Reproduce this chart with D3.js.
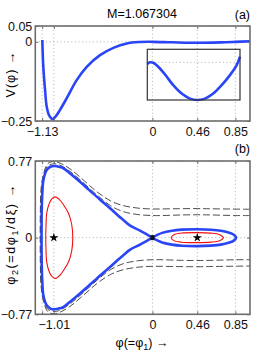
<!DOCTYPE html>
<html>
<head>
<meta charset="utf-8">
<script src="https://cdn.jsdelivr.net/npm/d3@7"></script>
<style>
  body { margin: 0; background: #fff; }
  svg { display: block; font-family: "Liberation Sans", Arial, sans-serif; }
</style>
</head>
<body>
<div id="chart"></div>
<script>
const title = 'M=1.067304'

const xTicks = [-1.13, -1.01, 0, 0.46, 0.85]
const xLabelsA = ['−1.13', '', '0', '0.46', '0.85']
const xLabelsB = ['', '−1.01', '0', '0.46', '0.85']
const yTicksA = [-0.25, 0, 0.05]
const yLabelsA = ['−0.25', '0', '0.05']
const yTicksB = [-0.77, 0, 0.77]
const yLabelsB = ['−0.77', '0', '0.77']

// Sagdeev potential, panel (a)
const potPhi = [-1.128, -1.118, -1.10, -1.083, -1.056, -1.026, -0.998, -0.947, -0.878, -0.776, -0.673, -0.537, -0.40, -0.263, -0.127, 0, 0.2, 0.46, 0.7, 0.85, 1.0]
const potV = [0.006, -0.079, -0.152, -0.205, -0.234, -0.244, -0.238, -0.215, -0.178, -0.121, -0.079, -0.042, -0.019, -0.005, -0.0005, 0, -0.0015, -0.003, -0.0017, 0, 0.002]

// inset, zoom on 0 < phi < 0.85
const insetPhi = [-0.052, -0.025, 0.009, 0.06, 0.129, 0.214, 0.3, 0.385, 0.46, 0.539, 0.624, 0.71, 0.795, 0.864, 0.898]
const insetV = [-0.000136, 0, -0.00003, -0.00035, -0.00096, -0.00182, -0.00249, -0.00289, -0.003, -0.00289, -0.00249, -0.00182, -0.00102, -0.00022, 0.00045]

// separatrix (upper halves), panel (b)
const sepLeftPhi = [0, -0.127, -0.228, -0.298, -0.35, -0.434, -0.5, -0.571, -0.65, -0.742, -0.85, -0.913, -0.95, -1.0, -1.04, -1.083, -1.117, -1.128, -1.134, -1.136]
const sepLeftP2 = [0, 0.07, 0.12, 0.177, 0.22, 0.295, 0.35, 0.412, 0.48, 0.562, 0.65, 0.697, 0.71, 0.72, 0.715, 0.68, 0.58, 0.446, 0.28, 0]
const sepRightPhi = [0, 0.05, 0.1, 0.2, 0.3, 0.46, 0.6, 0.7, 0.78, 0.83, 0.857]
const sepRightP2 = [0, 0.028, 0.048, 0.07, 0.081, 0.085, 0.08, 0.07, 0.052, 0.032, 0]

// closed orbits (upper halves)
const redLeftPhi = [-1.093, -1.09, -1.083, -1.056, -1.03, -0.998, -0.95, -0.91, -0.86, -0.826, -0.816]
const redLeftP2 = [0, 0.13, 0.245, 0.345, 0.39, 0.41, 0.38, 0.328, 0.245, 0.127, 0]
const redRightPhi = [0.193, 0.22, 0.3, 0.46, 0.6, 0.69, 0.727]
const redRightP2 = [0, 0.03, 0.046, 0.05, 0.045, 0.03, 0]

// open orbits outside the separatrix (upper halves)
const dashInnerPhi = [1.0, 0.85, 0.6, 0.46, 0.3, 0.1, 0, -0.15, -0.3, -0.43, -0.57, -0.74, -0.85, -0.95, -1.01, -1.07, -1.11, -1.135, -1.143, -1.145]
const dashInnerP2 = [0.222, 0.222, 0.228, 0.23, 0.228, 0.222, 0.222, 0.232, 0.262, 0.322, 0.43, 0.58, 0.67, 0.73, 0.742, 0.722, 0.64, 0.48, 0.28, 0]
const dashOuterPhi = [1.0, 0.6, 0.46, 0.2, 0, -0.15, -0.3, -0.43, -0.57, -0.74, -0.85, -0.95, -1.01, -1.07, -1.11, -1.14, -1.148, -1.15]
const dashOuterP2 = [0.285, 0.29, 0.292, 0.29, 0.288, 0.297, 0.322, 0.37, 0.462, 0.607, 0.695, 0.75, 0.765, 0.745, 0.66, 0.5, 0.29, 0]

const starPhi = [-1.01, 0.46]
const saddlePhi = [0]

const blue = '#2a45f5'
const boxColor = '#6e6e6e'

const svg = d3.select('#chart')
  .append('svg')
  .attr('width', 275)
  .attr('height', 363)

const x = d3.scaleLinear().domain([-1.2, 1.0]).range([35.3, 250])
const yA = d3.scaleLinear().domain([-0.25, 0.05]).range([121, 26])
const yB = d3.scaleLinear().domain([-0.77, 0.77]).range([314.3, 161])
const xI = d3.scaleLinear().domain([-0.052, 0.898]).range([147.3, 240])
const yI = d3.scaleLinear().domain([-0.003, 0.00104]).range([100, 49.3])

function pairs (a, b) {
  return a.map((d, i) => [d, b[i]])
}

// upper half followed by its mirror image
function mirrored (a, b) {
  const up = pairs(a, b)
  const down = up.slice(0, -1).reverse().map(d => [d[0], -d[1]])
  return up.concat(down)
}

function grid (g, xs, ys, xScale, yScale) {
  const [x0, x1] = xScale.range()
  const [y0, y1] = yScale.range()
  g.selectAll('.gx')
    .data(xs)
    .enter()
    .append('line')
    .attr('x1', d => xScale(d))
    .attr('x2', d => xScale(d))
    .attr('y1', y0)
    .attr('y2', y1)
  g.selectAll('.gy')
    .data(ys)
    .enter()
    .append('line')
    .attr('x1', x0)
    .attr('x2', x1)
    .attr('y1', d => yScale(d))
    .attr('y2', d => yScale(d))
  g.selectAll('line')
    .attr('stroke', '#9a9a9a')
    .attr('stroke-width', 0.8)
    .attr('stroke-dasharray', '1,2.6')
}

function axes (yScale, yTicks, yLabels, xLabels) {
  const [top, bottom] = [yScale.range()[1], yScale.range()[0]]
  const g = svg.append('g')

  g.append('g')
    .attr('transform', 'translate(0,' + bottom + ')')
    .call(d3.axisBottom(x).tickValues(xTicks).tickSizeInner(-3).tickSizeOuter(0).tickPadding(6)
      .tickFormat((d, i) => xLabels[i]))
  g.append('g')
    .attr('transform', 'translate(0,' + top + ')')
    .call(d3.axisTop(x).tickValues(xTicks).tickSizeInner(-3).tickSizeOuter(0).tickFormat(''))
  g.append('g')
    .attr('transform', 'translate(' + x.range()[0] + ',0)')
    .call(d3.axisLeft(yScale).tickValues(yTicks).tickSizeInner(-3).tickSizeOuter(0).tickPadding(3)
      .tickFormat((d, i) => yLabels[i]))
  g.append('g')
    .attr('transform', 'translate(' + x.range()[1] + ',0)')
    .call(d3.axisRight(yScale).tickValues(yTicks).tickSizeInner(-3).tickSizeOuter(0).tickFormat(''))

  g.selectAll('.domain').remove()
  g.selectAll('.tick line').attr('stroke', boxColor).attr('stroke-width', 1)
  g.selectAll('.tick text')
    .attr('font-family', '"Liberation Sans", Arial, sans-serif')
    .attr('font-size', 12.5)
    .attr('fill', '#111')

  g.append('rect')
    .attr('x', x.range()[0])
    .attr('y', top)
    .attr('width', x.range()[1] - x.range()[0])
    .attr('height', bottom - top)
    .attr('fill', 'none')
    .attr('stroke', boxColor)
    .attr('stroke-width', 1.6)
}

// ---------- panel (a)
grid(svg.append('g'), xTicks, yTicksA, x, yA)

const lineA = d3.line()
  .x(d => x(d[0]))
  .y(d => yA(d[1]))
  .curve(d3.curveCatmullRom)

svg.append('path')
  .datum(pairs(potPhi, potV))
  .attr('d', lineA)
  .attr('fill', 'none')
  .attr('stroke', blue)
  .attr('stroke-width', 2.6)

axes(yA, yTicksA, yLabelsA, xLabelsA)

// inset
const inset = svg.append('g')
inset.append('rect')
  .attr('x', xI.range()[0])
  .attr('y', yI.range()[1])
  .attr('width', xI.range()[1] - xI.range()[0])
  .attr('height', yI.range()[0] - yI.range()[1])
  .attr('fill', '#fff')
grid(inset.append('g'), [0, 0.46, 0.85], [0], xI, yI)

inset.append('path')
  .datum(pairs(insetPhi, insetV))
  .attr('d', d3.line().x(d => xI(d[0])).y(d => yI(d[1])).curve(d3.curveCatmullRom))
  .attr('fill', 'none')
  .attr('stroke', blue)
  .attr('stroke-width', 2.6)

inset.append('rect')
  .attr('x', xI.range()[0])
  .attr('y', yI.range()[1])
  .attr('width', xI.range()[1] - xI.range()[0])
  .attr('height', yI.range()[0] - yI.range()[1])
  .attr('fill', 'none')
  .attr('stroke', '#333')
  .attr('stroke-width', 1.2)

// ---------- panel (b)
grid(svg.append('g'), xTicks, yTicksB, x, yB)

svg.append('clipPath')
  .attr('id', 'clipB')
  .append('rect')
  .attr('x', x.range()[0])
  .attr('y', yB.range()[1])
  .attr('width', x.range()[1] - x.range()[0])
  .attr('height', yB.range()[0] - yB.range()[1])

const plotB = svg.append('g').attr('clip-path', 'url(#clipB)')

const lineB = d3.line()
  .x(d => x(d[0]))
  .y(d => yB(d[1]))
  .curve(d3.curveCatmullRom)

const closedB = d3.line()
  .x(d => x(d[0]))
  .y(d => yB(d[1]))
  .curve(d3.curveCatmullRomClosed)

plotB.selectAll('.orbit')
  .data([mirrored(dashInnerPhi, dashInnerP2), mirrored(dashOuterPhi, dashOuterP2)])
  .enter()
  .append('path')
  .attr('class', 'orbit')
  .attr('d', lineB)
  .attr('fill', 'none')
  .attr('stroke', '#222')
  .attr('stroke-width', 0.8)
  .attr('stroke-dasharray', '7,3')

plotB.selectAll('.closed')
  .data([
    mirrored(redLeftPhi, redLeftP2).slice(0, -1),
    mirrored(redRightPhi, redRightP2).slice(0, -1)
  ])
  .enter()
  .append('path')
  .attr('class', 'closed')
  .attr('d', closedB)
  .attr('fill', 'none')
  .attr('stroke', '#f01010')
  .attr('stroke-width', 1.1)

plotB.selectAll('.sep')
  .data([mirrored(sepLeftPhi, sepLeftP2), mirrored(sepRightPhi, sepRightP2)])
  .enter()
  .append('path')
  .attr('class', 'sep')
  .attr('d', lineB)
  .attr('fill', 'none')
  .attr('stroke', blue)
  .attr('stroke-width', 2.6)

plotB.selectAll('.star')
  .data(starPhi)
  .enter()
  .append('path')
  .attr('class', 'star')
  .attr('d', d3.symbol(d3.symbolStar).size(26))
  .attr('transform', d => 'translate(' + x(d) + ',' + yB(0) + ')')
  .attr('fill', '#000')

plotB.selectAll('.saddle')
  .data(saddlePhi)
  .enter()
  .append('rect')
  .attr('class', 'saddle')
  .attr('x', d => x(d) - 2)
  .attr('y', yB(0) - 2.5)
  .attr('width', 4)
  .attr('height', 5)
  .attr('fill', '#111')

axes(yB, yTicksB, yLabelsB, xLabelsB)

// ---------- texts
svg.append('text')
  .attr('x', 142)
  .attr('y', 18)
  .attr('text-anchor', 'middle')
  .attr('font-size', 12.5)
  .text(title)

svg.append('text')
  .attr('x', 250)
  .attr('y', 19)
  .attr('text-anchor', 'end')
  .attr('font-size', 12.5)
  .text('(a)')

svg.append('text')
  .attr('x', 250)
  .attr('y', 153)
  .attr('text-anchor', 'end')
  .attr('font-size', 12.5)
  .text('(b)')

svg.append('text')
  .attr('transform', 'translate(15,74) rotate(-90)')
  .attr('text-anchor', 'middle')
  .attr('font-size', 12.5)
  .attr('letter-spacing', 1)
  .text('V(φ) →')

const ylabB = svg.append('text')
  .attr('transform', 'translate(15,234) rotate(-90)')
  .attr('text-anchor', 'middle')
  .attr('font-size', 12.5)
  .attr('letter-spacing', 1.6)
ylabB.append('tspan').text('φ')
ylabB.append('tspan').attr('font-size', 9).attr('dy', 3).text('2')
ylabB.append('tspan').attr('dy', -3).text('(=dφ')
ylabB.append('tspan').attr('font-size', 9).attr('dy', 3).text('1')
ylabB.append('tspan').attr('dy', -3).text('/dξ) →')

const xlabB = svg.append('text')
  .attr('x', 142)
  .attr('y', 347)
  .attr('text-anchor', 'middle')
  .attr('font-size', 12.5)
xlabB.append('tspan').text('φ(=φ')
xlabB.append('tspan').attr('font-size', 9).attr('dy', 3).text('1')
xlabB.append('tspan').attr('dy', -3).text(') →')
</script>
</body>
</html>
